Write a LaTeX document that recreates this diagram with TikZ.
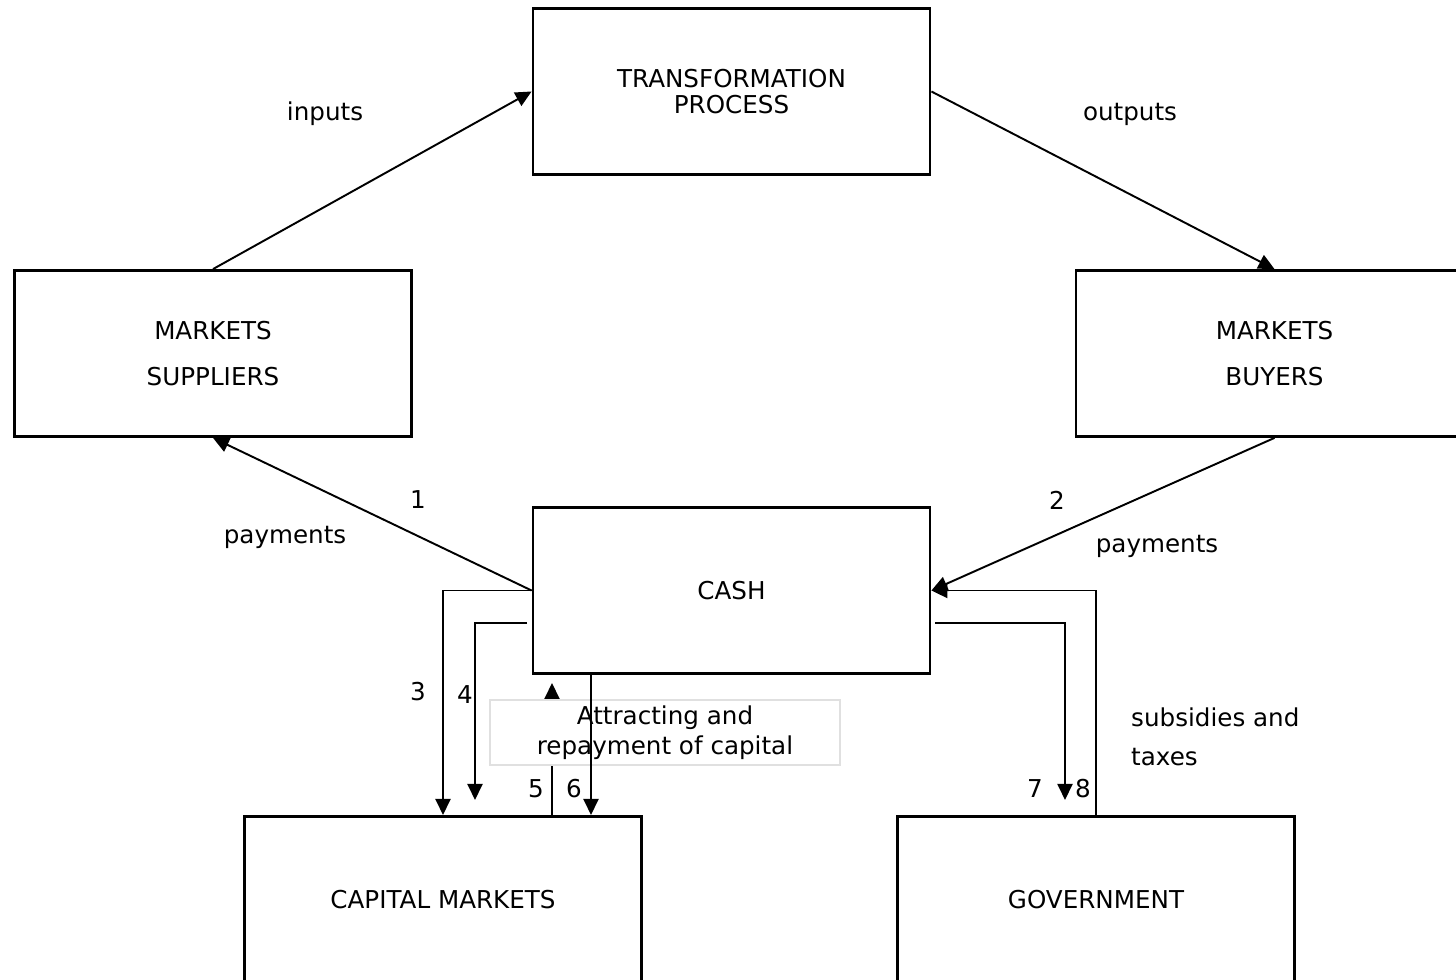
\documentclass[tikz,border=0pt]{standalone}
\usepackage{fontspec}
\setmainfont{DejaVu Sans}
\usetikzlibrary{arrows.meta}

\begin{document}
\begin{tikzpicture}[
	box/.style={draw,line width=1.6pt,minimum width=7.94cm,minimum height=3.32cm,align=center,font=\fontsize{14}{17}\selectfont},
	lowbox/.style={box,anchor=north,minimum height=3.72cm,text depth=0.42cm},
	flow/.style={line width=1.1pt,-{Triangle[length=3.2mm,width=3mm]}},
	lbl/.style={font=\fontsize{14}{17}\selectfont}]
	\useasboundingbox (0,0) rectangle (29.12,19.6);

	\node[box] (trans) at (14.63,17.77) {TRANSFORMATION\\[-2pt]PROCESS};
	\node[box,font=\fontsize{14}{26}\selectfont] (supp) at (4.26,12.53) {MARKETS\\SUPPLIERS};
	\node[box,font=\fontsize{14}{26}\selectfont] (buy) at (25.49,12.53) {MARKETS\\BUYERS};
	\node[box] (cash) at (14.63,7.79) {CASH};
	\node[lowbox] (cap) at (8.86,3.3) {CAPITAL MARKETS};
	\node[lowbox] (gov) at (21.92,3.3) {GOVERNMENT};

	\draw[flow] (supp.north) -- (trans.west);
	\draw[flow] (trans.east) -- (buy.north);
	\draw[flow] (cash.west) -- (supp.south);
	\draw[flow] (buy.south) -- (cash.east);

	\coordinate (s4) at (10.54,7.14);
	\coordinate (e4) at (9.5,3.6);
	\coordinate (s5) at (11.04,3.3);
	\coordinate (e5) at (11.04,5.94);
	\coordinate (s6) at (11.82,6.14);
	\coordinate (e6) at (11.82,3.3);
	\coordinate (s7) at (18.7,7.14);
	\coordinate (e7) at (21.3,3.6);

	\draw[flow] (cash.west) -| (cap.north);
	\draw[flow] (s4) -| (e4);
	\draw[flow] (s5) -- (e5);
	\node[draw=black!12,fill=white,line width=0.9pt,minimum width=7cm,minimum height=1.3cm,align=center,lbl] (capbox) at (13.3,4.95) {Attracting and\\[0pt]repayment of capital};
	\draw[flow] (s6) -- (e6);
	\draw[flow] (s7) -| (e7);
	\draw[flow] (gov.north) |- (cash.east);

	\node[lbl] (in) at (6.5,17.32) {inputs};
	\node[lbl] (out) at (22.6,17.32) {outputs};
	\node[lbl] (n1) at (8.36,9.6) {1};
	\node[lbl] (pay1) at (5.7,8.86) {payments};
	\node[lbl] (n2) at (21.14,9.6) {2};
	\node[lbl] (pay2) at (23.14,8.68) {payments};
	\node[lbl] (n3) at (8.36,5.76) {3};
	\node[lbl] (n4) at (9.3,5.7) {4};
	\node[lbl] (n5) at (10.72,3.82) {5};
	\node[lbl] (n6) at (11.48,3.82) {6};
	\node[lbl] (n7) at (20.7,3.82) {7};
	\node[lbl] (n8) at (21.66,3.82) {8};
	\node[lbl,anchor=west,align=left,font=\fontsize{14}{22}\selectfont] (tax) at (22.5,4.86) {subsidies and\\taxes};
\end{tikzpicture}
\end{document}
